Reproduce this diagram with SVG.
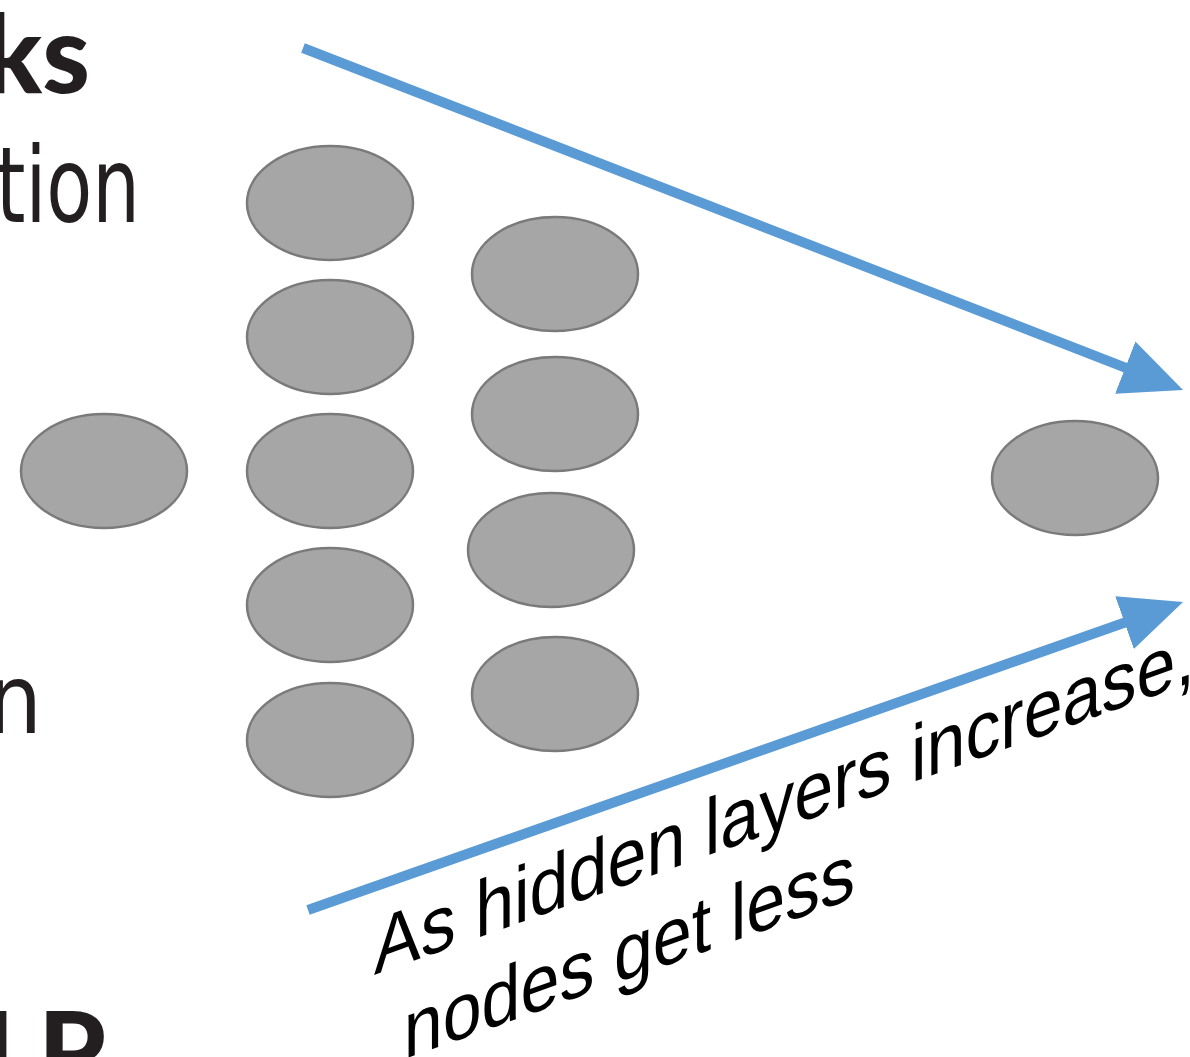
<svg xmlns="http://www.w3.org/2000/svg" width="1190" height="1057" viewBox="0 0 1190 1057">
<style>
.node{fill:#a6a6a6;stroke:#7a7a7a;stroke-width:2.5}
.arrow{stroke:#5b9bd5;stroke-width:10;fill:none}
.bold{font-family:Lato,"Liberation Sans",sans-serif;font-weight:900;fill:#231f20}
.reg{font-family:"DejaVu Sans Condensed","DejaVu Sans",sans-serif;fill:#231f20}
.lbl{font-family:"Liberation Sans",Arial,sans-serif;font-size:80px;fill:#000}
</style>
<defs>
<marker id="ah" markerUnits="userSpaceOnUse" markerWidth="62" markerHeight="56" viewBox="0 0 62 56" refX="20" refY="28" orient="auto">
<path d="M0,0 L62,28 L0,56 z" fill="#5b9bd5"/>
</marker>
</defs>
<rect width="1190" height="1057" fill="#fff"/>
<g id="side-text">
<text class="bold" x="90" y="93" font-size="108" text-anchor="end">ks</text>
<text class="reg" x="-4" y="222" font-size="106" textLength="144" lengthAdjust="spacingAndGlyphs">tion</text>
<text class="reg" x="42" y="733" font-size="96" text-anchor="end">n</text>
<text class="bold" x="106" y="1090" font-size="108" text-anchor="end">LP</text>
</g>
<g id="connectors">
<line class="arrow" x1="303" y1="48" x2="1143.9" y2="374.8" marker-end="url(#ah)"/>
<line class="arrow" x1="308" y1="910" x2="1143.4" y2="616" marker-end="url(#ah)"/>
</g>
<g id="input-node"><ellipse class="node" cx="104" cy="471" rx="83" ry="57"/></g>
<g id="h1-1"><ellipse class="node" cx="330" cy="203" rx="83" ry="57"/></g>
<g id="h1-2"><ellipse class="node" cx="330" cy="337" rx="83" ry="57"/></g>
<g id="h1-3"><ellipse class="node" cx="330" cy="471" rx="83" ry="57"/></g>
<g id="h1-4"><ellipse class="node" cx="330" cy="605" rx="83" ry="57"/></g>
<g id="h1-5"><ellipse class="node" cx="330" cy="740" rx="83" ry="57"/></g>
<g id="h2-1"><ellipse class="node" cx="555" cy="274" rx="83" ry="57"/></g>
<g id="h2-2"><ellipse class="node" cx="555" cy="414" rx="83" ry="57"/></g>
<g id="h2-3"><ellipse class="node" cx="551" cy="550" rx="83" ry="57"/></g>
<g id="h2-4"><ellipse class="node" cx="555" cy="694" rx="83" ry="57"/></g>
<g id="output-node"><ellipse class="node" cx="1075" cy="478" rx="83" ry="57"/></g>
<g id="label">
<text class="lbl" transform="translate(374,975) skewY(-19.7) scale(0.875,1)"><tspan x="0" y="0">As hidden layers increase,</tspan><tspan x="34" y="95">nodes get less</tspan></text>
</g>
</svg>
